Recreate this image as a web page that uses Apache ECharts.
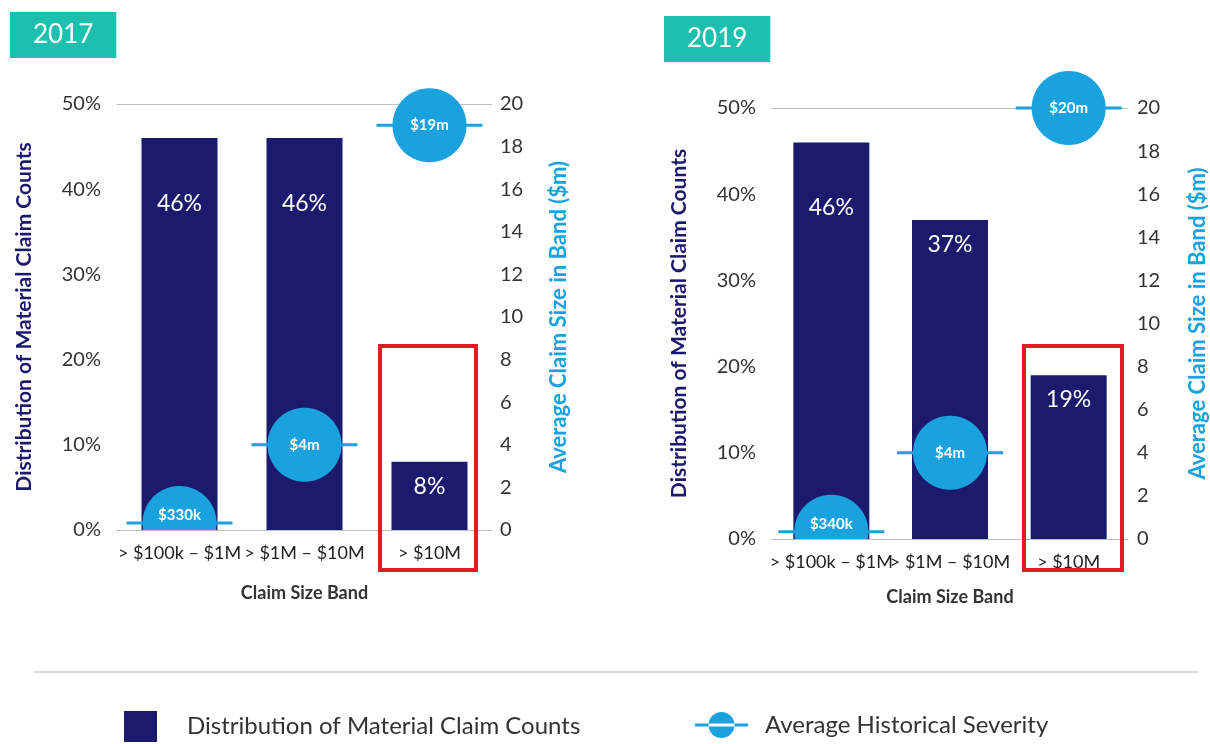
<!DOCTYPE html>
<html>
<head>
<meta charset="utf-8">
<title>Material claim counts and severity by claim size band</title>
<script src="https://cdn.jsdelivr.net/npm/echarts@6.0.0/dist/echarts.min.js"></script>
<style>
  html, body { margin: 0; padding: 0; background: #fff; }
  #chart { width: 1210px; height: 744px; }
</style>
</head>
<body>
<div id="chart"></div>
<script>
  // claim size bands (x axis)
  var bands = ['> $100k – $1M', '> $1M – $10M', '> $10M'];

  // distribution of material claim counts (%)
  var counts2017 = [46, 46, 8];
  var counts2019 = [46, 37, 19];

  // average historical severity ($m) and the label shown in each bubble
  var severity2017 = [0.33, 4, 19];
  var severity2019 = [0.34, 4, 20];
  var severityLabels2017 = ['$330k', '$4m', '$19m'];
  var severityLabels2019 = ['$340k', '$4m', '$20m'];

  var NAVY = '#1c1a6c';
  var BLUE = '#19a2dd';
  var TEAL = '#1dbfae';
  var FONT = 'Lato, "Noto Sans", sans-serif';

  var BAR_NAME = 'Distribution of Material Claim Counts';
  var SEV_NAME = 'Average Historical Severity';

  // bubble on a short horizontal line, cut off at the x axis
  function severityRenderer (labels) {
    return function (params, api) {
      var pt = api.coord([api.value(0), api.value(1)]);
      var cs = params.coordSys;
      var bottom = cs.y + cs.height;
      var r = 37;
      var half = 53;
      var pts = [];
      for (var i = 0; i < 120; i++) {
        var a = i / 120 * Math.PI * 2;
        pts.push([pt[0] + r * Math.cos(a), Math.min(pt[1] + r * Math.sin(a), bottom)]);
      }
      return {
        type: 'group',
        children: [
          {
            type: 'line',
            shape: { x1: pt[0] - half, y1: pt[1], x2: pt[0] + half, y2: pt[1] },
            style: { stroke: BLUE, lineWidth: 3 }
          },
          {
            type: 'polygon',
            shape: { points: pts },
            style: { fill: BLUE }
          },
          {
            type: 'text',
            style: {
              text: labels[params.dataIndex],
              x: pt[0],
              y: Math.min(pt[1], bottom - 15),
              fill: '#fff',
              font: 'bold 15px ' + FONT,
              align: 'center',
              verticalAlign: 'middle'
            }
          }
        ]
      };
    };
  }

  function barSeries (counts, xIndex, yIndex) {
    return {
      name: BAR_NAME,
      type: 'bar',
      xAxisIndex: xIndex,
      yAxisIndex: yIndex,
      barWidth: 76,
      z: 2,
      itemStyle: { color: NAVY },
      label: {
        show: true,
        position: 'insideTop',
        color: '#fff',
        fontSize: 23,
        fontFamily: FONT,
        formatter: '{c}%'
      },
      // tall bars carry their label further down
      data: counts.map(function (v) {
        return { value: v, label: { distance: v > 40 ? 54 : 13 } };
      })
    };
  }

  function severitySeries (values, labels, xIndex, yIndex) {
    return {
      name: SEV_NAME,
      type: 'custom',
      xAxisIndex: xIndex,
      yAxisIndex: yIndex,
      clip: false,
      z: 5,
      itemStyle: { color: BLUE },
      renderItem: severityRenderer(labels),
      data: values.map(function (v, i) { return [i, v]; })
    };
  }

  function xAxis (gridIndex, nameGap) {
    return {
      type: 'category',
      gridIndex: gridIndex,
      data: bands,
      axisLine: { lineStyle: { color: '#bdbdbd', width: 1 } },
      axisTick: { show: false },
      axisLabel: { interval: 0, color: '#222', fontSize: 18, fontFamily: FONT, margin: 14, hideOverlap: false },
      name: 'Claim Size Band',
      nameLocation: 'middle',
      nameGap: nameGap,
      nameTextStyle: { color: '#333', fontSize: 18, fontWeight: 'bold', fontFamily: FONT }
    };
  }

  // plain rule along the top of each plot (the 50% / 20 line)
  function topRule (gridIndex) {
    return {
      type: 'category',
      gridIndex: gridIndex,
      position: 'top',
      data: bands,
      axisLine: { onZero: false, lineStyle: { color: '#bdbdbd', width: 1 } },
      axisTick: { show: false },
      axisLabel: { show: false }
    };
  }

  function pctAxis (gridIndex) {
    return {
      type: 'value',
      gridIndex: gridIndex,
      position: 'left',
      min: 0,
      max: 50,
      interval: 10,
      axisLine: { show: false },
      axisTick: { show: false },
      splitLine: { show: false },
      axisLabel: { formatter: '{value}%', color: '#333', fontSize: 20, fontFamily: FONT, margin: 16 },
      name: BAR_NAME,
      nameLocation: 'middle',
      nameGap: 82,
      nameTextStyle: { color: NAVY, fontSize: 21, fontWeight: 'bold', fontFamily: FONT }
    };
  }

  function sizeAxis (gridIndex, margin, nameGap) {
    return {
      type: 'value',
      gridIndex: gridIndex,
      position: 'right',
      min: 0,
      max: 20,
      interval: 2,
      axisLine: { show: false },
      axisTick: { show: false },
      splitLine: { show: false },
      axisLabel: { color: '#333', fontSize: 20, fontFamily: FONT, margin: margin },
      name: 'Average Claim Size in Band ($m)',
      nameLocation: 'middle',
      nameRotate: 90,
      nameGap: nameGap,
      nameTextStyle: { color: BLUE, fontSize: 22, fontWeight: 'bold', fontFamily: FONT }
    };
  }

  function yearTitle (text, left, top) {
    return {
      text: text,
      left: left,
      top: top,
      backgroundColor: TEAL,
      padding: [10, 23],
      textStyle: { color: '#fff', fontSize: 26, fontWeight: 'normal', fontFamily: FONT, lineHeight: 26 }
    };
  }

  function redBox (x, y, w, h) {
    return {
      type: 'rect',
      shape: { x: x, y: y, width: w, height: h },
      style: { fill: 'none', stroke: '#e31b23', lineWidth: 4 },
      z: 10
    };
  }

  var chart = echarts.init(document.getElementById('chart'));
  chart.setOption({
    backgroundColor: '#fff',
    animation: false,
    title: [yearTitle('2017', 10, 12), yearTitle('2019', 664, 16)],
    grid: [
      { left: 117, top: 104, width: 375, height: 426 },
      { left: 772, top: 108, width: 366, height: 431 }
    ],
    xAxis: [xAxis(0, 54), xAxis(1, 49), topRule(0), topRule(1)],
    yAxis: [pctAxis(0), sizeAxis(0, 8, 56), pctAxis(1), sizeAxis(1, 9, 59)],
    legend: [
      {
        data: [BAR_NAME],
        left: 124,
        top: 711,
        padding: 0,
        icon: 'rect',
        itemWidth: 33,
        itemHeight: 31,
        selectedMode: false,
        textStyle: { color: '#333', fontSize: 24, fontFamily: FONT, padding: [0, 0, 0, 25] }
      },
      {
        data: [SEV_NAME],
        left: 695,
        top: 712,
        padding: 0,
        icon: 'path://M0,11.5h53v3h-53z M13.5,13a13,13 0 1,0 26,0a13,13 0 1,0 -26,0z',
        itemWidth: 53,
        itemHeight: 26,
        selectedMode: false,
        textStyle: { color: '#333', fontSize: 24, fontFamily: FONT, padding: [0, 0, 0, 12] }
      }
    ],
    graphic: [
      {
        type: 'line',
        shape: { x1: 35, y1: 672, x2: 1198, y2: 672 },
        style: { stroke: '#b5b5b5', lineWidth: 1 }
      },
      redBox(380, 346, 96, 224),
      redBox(1024, 346, 98, 224)
    ],
    series: [
      barSeries(counts2017, 0, 0),
      severitySeries(severity2017, severityLabels2017, 0, 1),
      barSeries(counts2019, 1, 2),
      severitySeries(severity2019, severityLabels2019, 1, 3)
    ]
  });
</script>
</body>
</html>
